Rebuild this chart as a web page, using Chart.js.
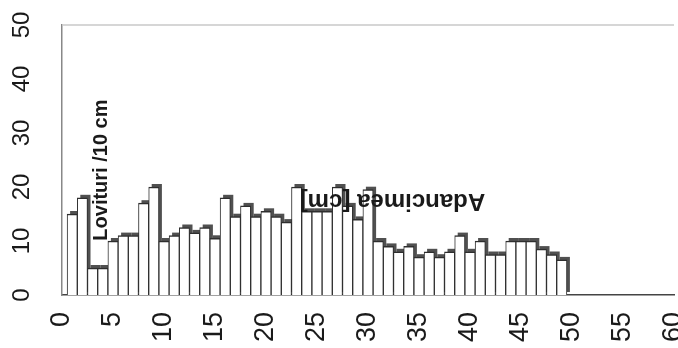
<!DOCTYPE html>
<html><head><meta charset="utf-8">
<script src="https://cdn.jsdelivr.net/npm/chart.js@4/dist/chart.umd.min.js"></script>
<style>html,body{margin:0;padding:0;background:#fff;overflow:hidden}</style>
</head><body>
<canvas id="c" width="678" height="348"></canvas>
<script>
const depths = [1,2,3,4,5,6,7,8,9,10,11,12,13,14,15,16,17,18,19,20,21,22,23,24,25,26,27,28,29,30,31,32,33,34,35,36,37,38,39,40,41,42,43,44,45,46,47,48,49];
const blows = [15,18,5,5,10,11,11,17,20,10,11,12.5,11.5,12.5,10.5,18,14.5,16.5,14.5,15.5,14.5,13.5,20,15.5,15.5,15.5,20,16.5,14,19.5,10,9,8,9,7,8,7,8,11,8,10,7.5,7.5,10,10,10,8.5,7.5,6.5];
const xTicks = [0,5,10,15,20,25,30,35,40,45,50,55,60];
const yTicks = [0,10,20,30,40,50];
const yTitle = 'Lovituri /10 cm';
const xTitle = 'Adancimea [cm]';

const FONT = 'Liberation Sans, Arial, sans-serif';

// dark drop shadow behind each bar (up-right), using the bar elements laid out by Chart.js
const shadowPlugin = {
  id: 'shadow',
  beforeDatasetDraw(chart, args) {
    const ctx = chart.ctx;
    ctx.save();
    ctx.fillStyle = '#505050';
    args.meta.data.forEach(bar => {
      const p = bar.getProps(['x', 'y', 'base', 'width'], true);
      const l = p.x - p.width / 2 + 3;
      ctx.fillRect(l, p.y - 3, p.width, p.base - p.y);
    });
    ctx.restore();
  }
};

const decoPlugin = {
  id: 'deco',
  beforeDatasetsDraw(chart) {
    const ctx = chart.ctx, a = chart.chartArea;
    ctx.save();
    ctx.strokeStyle = '#c8c8c8';
    ctx.lineWidth = 1.5;
    ctx.beginPath(); ctx.moveTo(a.left, a.top); ctx.lineTo(a.right, a.top); ctx.stroke();
    ctx.restore();
  },
  afterDraw(chart) {
    const ctx = chart.ctx, ys = chart.scales.y, xs = chart.scales.x;
    ctx.save();
    ctx.fillStyle = '#1a1a1a';
    ctx.font = '24px ' + FONT;
    ctx.textAlign = 'center';
    ctx.textBaseline = 'middle';
    yTicks.forEach(v => {
      ctx.save();
      ctx.translate(22, ys.getPixelForValue(v));
      ctx.rotate(-Math.PI / 2);
      ctx.fillText(String(v), 0, 0);
      ctx.restore();
    });
    // y title (rotated)
    ctx.save();
    ctx.font = 'bold 20px ' + FONT;
    ctx.translate(xs.getPixelForValue(3.9), ys.getPixelForValue(36.2));
    ctx.rotate(-Math.PI / 2);
    ctx.textAlign = 'right';
    ctx.fillText(yTitle, 0, 0);
    ctx.restore();
    // x title (upside down)
    ctx.save();
    ctx.font = 'bold 24px ' + FONT;
    ctx.translate(xs.getPixelForValue(32.4), ys.getPixelForValue(17.5));
    ctx.rotate(Math.PI);
    ctx.textAlign = 'center';
    ctx.fillText(xTitle, 0, 0);
    ctx.restore();
    ctx.restore();
  }
};

new Chart(document.getElementById('c'), {
  type: 'bar',
  data: {
    datasets: [{
      data: depths.map((d, i) => ({ x: d, y: blows[i] })),
      backgroundColor: '#ffffff',
      borderColor: '#2e2e2e',
      borderWidth: { left: 1, right: 1, top: 1.5, bottom: 0 },
      borderSkipped: false,
      barPercentage: 1,
      categoryPercentage: 1
    }]
  },
  options: {
    responsive: false,
    animation: false,
    devicePixelRatio: 1,
    layout: { padding: { top: 25, right: 4, left: 0, bottom: 0 } },
    plugins: { legend: { display: false }, tooltip: { enabled: false } },
    scales: {
      x: {
        type: 'linear', min: 0, max: 60, offset: false,
        grid: { display: false, drawTicks: false },
        border: { display: true, color: '#444', width: 1.5 },
        afterBuildTicks(s) { s.ticks = xTicks.map(v => ({ value: v })); },
        ticks: { minRotation: 90, maxRotation: 90, padding: 17, autoSkip: false,
                 color: '#1a1a1a', font: { family: FONT, size: 27 } },
        afterFit(s) { s.paddingLeft = 0; s.paddingRight = 0; s.height = 53; }
      },
      y: {
        min: 0, max: 50,
        grid: { display: false, drawTicks: false },
        border: { display: true, color: '#888', width: 1.5 },
        ticks: { display: false, stepSize: 10 },
        afterFit(s) { s.width = 62; s.paddingTop = 0; s.paddingBottom = 0; }
      }
    }
  },
  plugins: [shadowPlugin, decoPlugin]
});
</script>
</body></html>
